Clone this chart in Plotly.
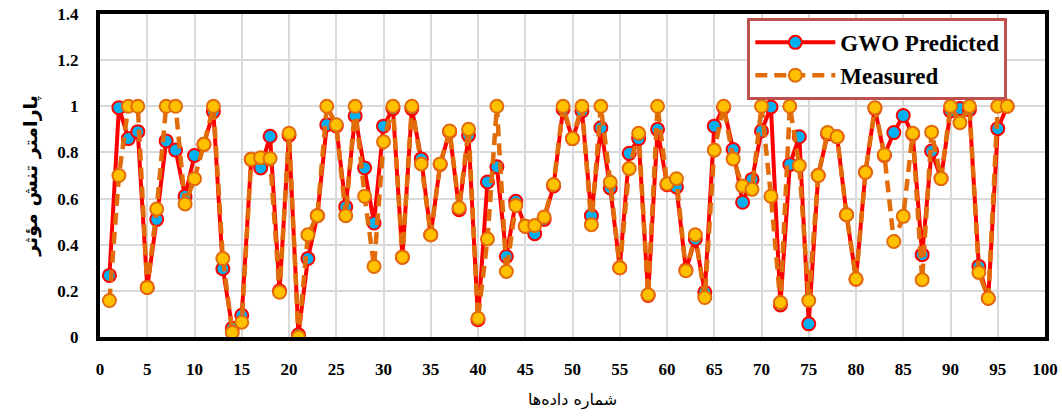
import plotly.graph_objects as go

idx = list(range(1, 97))

gwo_predicted = [
    0.267, 0.994, 0.86, 0.89, 0.215, 0.51, 0.85, 0.81, 0.61, 0.787,
    0.835, 0.977, 0.296, 0.038, 0.094, 0.77, 0.733, 0.87, 0.2, 0.875,
    0.01, 0.34, 0.526, 0.92, 0.915, 0.564, 0.958, 0.733, 0.494, 0.914,
    0.99, 0.346, 0.99, 0.772, 0.443, 0.748, 0.89, 0.552, 0.874, 0.075,
    0.672, 0.738, 0.349, 0.588, 0.48, 0.448, 0.51, 0.655, 0.987, 0.86,
    0.98, 0.526, 0.907, 0.646, 0.30, 0.796, 0.86, 0.18, 0.90, 0.66,
    0.65, 0.29, 0.425, 0.194, 0.914, 0.995, 0.813, 0.584, 0.683, 0.893,
    0.997, 0.139, 0.748, 0.868, 0.057, 0.70, 0.88, 0.868, 0.53, 0.25,
    0.714, 0.99, 0.787, 0.886, 0.96, 0.88, 0.357, 0.806, 0.687, 0.98,
    0.99, 0.985, 0.306, 0.168, 0.903, 1.0,
]

measured = [
    0.158, 0.70, 1.0, 1.0, 0.215, 0.555, 1.0, 1.0, 0.577, 0.686,
    0.835, 1.0, 0.34, 0.02, 0.064, 0.77, 0.777, 0.774, 0.194, 0.883,
    0.0, 0.443, 0.526, 1.0, 0.92, 0.526, 1.0, 0.61, 0.306, 0.846,
    1.0, 0.346, 1.0, 0.75, 0.443, 0.75, 0.893, 0.56, 0.90, 0.081,
    0.425, 1.0, 0.284, 0.57, 0.48, 0.483, 0.52, 0.661, 1.0, 0.86,
    1.0, 0.487, 1.0, 0.671, 0.30, 0.73, 0.883, 0.183, 1.0, 0.664,
    0.686, 0.287, 0.443, 0.171, 0.81, 1.0, 0.772, 0.654, 0.64, 1.0,
    0.61, 0.149, 1.0, 0.743, 0.158, 0.70, 0.886, 0.868, 0.53, 0.251,
    0.714, 0.994, 0.79, 0.414, 0.523, 0.883, 0.248, 0.888, 0.687, 1.0,
    0.929, 1.0, 0.28, 0.168, 1.0, 1.0,
]

x_ticks = list(range(0, 101, 5))
y_ticks = [0, 0.2, 0.4, 0.6, 0.8, 1.0, 1.2, 1.4]
y_tick_text = ["0", "0.2", "0.4", "0.6", "0.8", "1", "1.2", "1.4"]

fig = go.Figure()
fig.add_trace(go.Scatter(
    x=idx, y=gwo_predicted, mode="lines+markers", name="GWO Predicted",
    line=dict(color="#ff0000", width=4),
    marker=dict(size=13, color="#00b0f0", line=dict(color="#ff0000", width=2)),
))
fig.add_trace(go.Scatter(
    x=idx, y=measured, mode="lines+markers", name="Measured",
    line=dict(color="#e36c0a", width=4.5, dash="12px,7px"),
    marker=dict(size=13, color="#ffc000", line=dict(color="#e36c0a", width=2)),
))

serif = "Liberation Serif, Times New Roman, serif"

fig.update_layout(
    width=1062, height=416,
    margin=dict(l=100, r=17, t=14, b=79),
    paper_bgcolor="white", plot_bgcolor="white",
    showlegend=True,
    legend=dict(
        x=0.685, y=0.988, xanchor="left", yanchor="top",
        bgcolor="white", bordercolor="#c0504d", borderwidth=3,
        font=dict(family=serif, size=23, color="black", weight="bold"),
        itemwidth=80,
    ),
    xaxis=dict(
        range=[0, 100], tickvals=x_ticks, ticks="", ticklabelstandoff=14,
        showgrid=True, gridcolor="#d9d9d9", gridwidth=1.5,
        showline=True, linecolor="black", linewidth=4, mirror=True,
        zeroline=False, automargin=False,
        tickfont=dict(family=serif, size=17, color="black", weight="bold"),
        title=dict(text="شماره داده‌ها", font=dict(family="DejaVu Sans", size=16, color="black"), standoff=16),
    ),
    yaxis=dict(
        range=[0, 1.4], tickvals=y_ticks, ticktext=y_tick_text, ticks="", ticklabelstandoff=14,
        showgrid=True, gridcolor="#d9d9d9", gridwidth=1.5,
        showline=True, linecolor="black", linewidth=4, mirror=True,
        zeroline=False, automargin=False,
        tickfont=dict(family=serif, size=17, color="black", weight="bold"),
        title=dict(text="پارامتر تنش مؤثر", font=dict(family="DejaVu Sans", size=19, color="black", weight="bold"), standoff=16),
    ),
)

fig.write_html("out.html")
